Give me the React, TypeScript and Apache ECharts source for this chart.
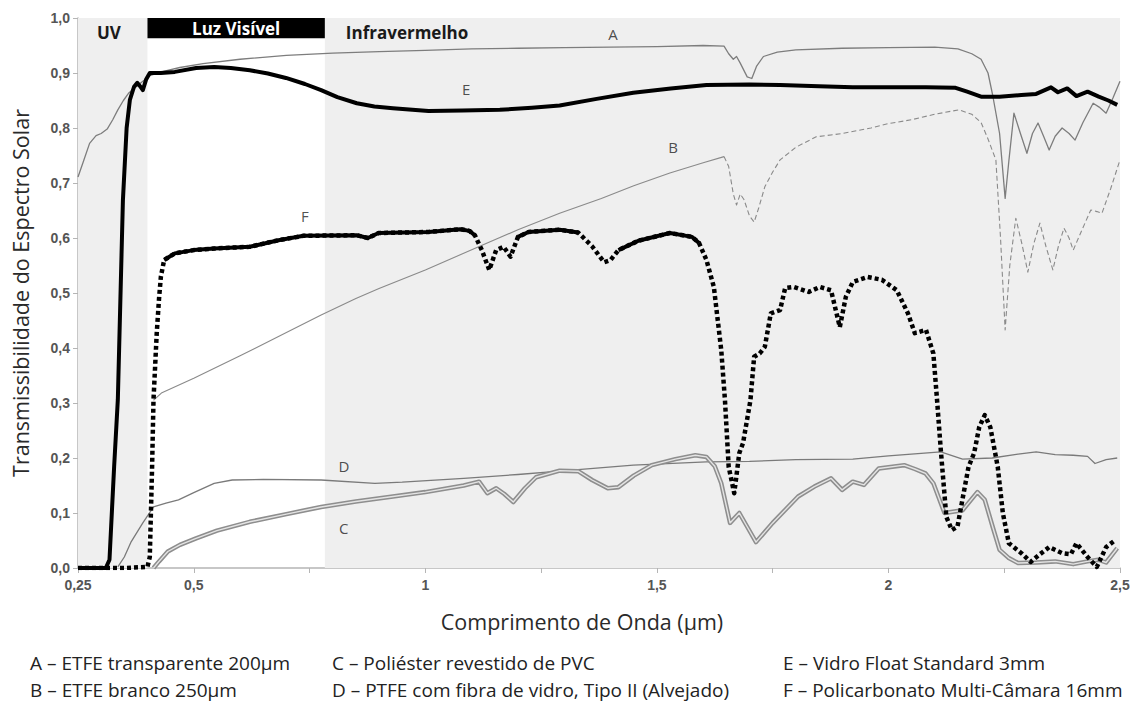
import React, { useEffect, useRef } from 'react';
import * as echarts from 'echarts';

// ---- data (wavelength in µm, transmissibility 0..1) ----
const seriesA: [number, number][] = [
  [0.25, 0.711], [0.262, 0.74], [0.275, 0.772], [0.289, 0.786], [0.3, 0.79], [0.313, 0.798],
  [0.325, 0.815], [0.336, 0.833], [0.348, 0.85], [0.359, 0.863], [0.378, 0.877], [0.39, 0.885],
  [0.405, 0.895], [0.43, 0.902], [0.47, 0.91], [0.52, 0.917], [0.6, 0.925], [0.7, 0.932],
  [0.8, 0.936], [0.9, 0.939], [1.0, 0.941], [1.1, 0.944], [1.2, 0.945], [1.3, 0.946],
  [1.4, 0.947], [1.5, 0.948], [1.6, 0.95], [1.645, 0.949], [1.655, 0.935], [1.665, 0.925],
  [1.672, 0.93], [1.68, 0.918], [1.695, 0.893], [1.705, 0.89], [1.715, 0.912], [1.73, 0.93],
  [1.76, 0.938], [1.8, 0.942], [1.9, 0.945], [2.0, 0.946], [2.1, 0.947], [2.15, 0.944],
  [2.18, 0.935], [2.2, 0.925], [2.215, 0.9], [2.225, 0.86], [2.24, 0.79], [2.252, 0.672],
  [2.26, 0.74], [2.271, 0.827], [2.285, 0.79], [2.299, 0.754], [2.311, 0.79], [2.323, 0.809],
  [2.335, 0.785], [2.347, 0.76], [2.36, 0.785], [2.375, 0.8], [2.39, 0.79], [2.403, 0.778],
  [2.42, 0.81], [2.442, 0.845], [2.455, 0.838], [2.47, 0.827], [2.485, 0.855], [2.5, 0.885],
];

const seriesB: [number, number][] = [
  [0.413, 0.305], [0.43, 0.318], [0.5, 0.345], [0.6, 0.386], [0.7, 0.428], [0.775, 0.46],
  [0.85, 0.49], [0.9, 0.508], [1.0, 0.542], [1.115, 0.584], [1.2, 0.615], [1.29, 0.645],
  [1.38, 0.672], [1.45, 0.695], [1.528, 0.718], [1.6, 0.737], [1.645, 0.748], [1.655, 0.73],
  [1.665, 0.68], [1.672, 0.66], [1.68, 0.68], [1.688, 0.67], [1.7, 0.64], [1.71, 0.629],
  [1.72, 0.655], [1.733, 0.693], [1.75, 0.72], [1.766, 0.742], [1.8, 0.765], [1.844, 0.784],
  [1.9, 0.79], [1.962, 0.8], [2.0, 0.808], [2.05, 0.815], [2.1, 0.825], [2.152, 0.833],
  [2.18, 0.825], [2.2, 0.81], [2.215, 0.78], [2.232, 0.742], [2.242, 0.6], [2.252, 0.433],
  [2.262, 0.55], [2.275, 0.636], [2.288, 0.59], [2.301, 0.538], [2.314, 0.59], [2.327, 0.627],
  [2.34, 0.585], [2.355, 0.542], [2.367, 0.585], [2.379, 0.618], [2.39, 0.6], [2.399, 0.578],
  [2.418, 0.615], [2.437, 0.651], [2.45, 0.648], [2.461, 0.645], [2.48, 0.69], [2.5, 0.742],
];
const bDashFrom = 1.645;

const seriesC: [number, number][] = [
  [0.413, 0], [0.425, 0.012], [0.444, 0.03], [0.47, 0.042], [0.505, 0.054], [0.55, 0.068],
  [0.621, 0.084], [0.7, 0.098], [0.775, 0.111], [0.85, 0.121], [0.93, 0.13], [1.0, 0.138],
  [1.083, 0.15], [1.116, 0.157], [1.134, 0.136], [1.153, 0.145], [1.17, 0.135], [1.19, 0.12],
  [1.215, 0.145], [1.239, 0.165], [1.29, 0.177], [1.33, 0.176], [1.36, 0.16], [1.394, 0.145],
  [1.417, 0.147], [1.45, 0.168], [1.489, 0.187], [1.54, 0.198], [1.583, 0.205], [1.607, 0.202],
  [1.625, 0.185], [1.639, 0.154], [1.658, 0.082], [1.678, 0.1], [1.695, 0.075], [1.714, 0.047],
  [1.75, 0.082], [1.805, 0.13], [1.84, 0.148], [1.876, 0.163], [1.9, 0.142], [1.923, 0.157],
  [1.947, 0.151], [1.979, 0.181], [2.034, 0.187], [2.057, 0.18], [2.08, 0.172], [2.097, 0.154],
  [2.121, 0.1], [2.16, 0.105], [2.192, 0.138], [2.208, 0.124], [2.225, 0.075], [2.24, 0.033],
  [2.26, 0.018], [2.28, 0.009], [2.32, 0.01], [2.36, 0.012], [2.399, 0.007], [2.43, 0.012],
  [2.453, 0.015], [2.47, 0.01], [2.494, 0.036],
];

const seriesD: [number, number][] = [
  [0.336, 0.002], [0.35, 0.02], [0.365, 0.048], [0.39, 0.082], [0.413, 0.111], [0.44, 0.118],
  [0.467, 0.124], [0.5, 0.137], [0.544, 0.154], [0.583, 0.16], [0.65, 0.161], [0.775, 0.16],
  [0.891, 0.154], [0.95, 0.156], [1.083, 0.163], [1.2, 0.17], [1.29, 0.176], [1.449, 0.187],
  [1.607, 0.193], [1.7, 0.194], [1.8, 0.197], [1.923, 0.198], [2.0, 0.204], [2.113, 0.211],
  [2.16, 0.198], [2.224, 0.2], [2.28, 0.207], [2.319, 0.211], [2.36, 0.206], [2.399, 0.205],
  [2.43, 0.203], [2.446, 0.19], [2.47, 0.197], [2.494, 0.2],
];

const seriesE: [number, number][] = [
  [0.25, 0], [0.31, 0], [0.318, 0.015], [0.328, 0.184], [0.336, 0.306], [0.347, 0.669],
  [0.355, 0.8], [0.362, 0.851], [0.371, 0.875], [0.378, 0.882], [0.384, 0.876], [0.39, 0.869],
  [0.397, 0.888], [0.405, 0.9], [0.429, 0.9], [0.459, 0.902], [0.505, 0.909], [0.544, 0.911],
  [0.58, 0.909], [0.621, 0.905], [0.66, 0.899], [0.699, 0.891], [0.74, 0.88], [0.775, 0.869],
  [0.81, 0.856], [0.852, 0.845], [0.89, 0.839], [0.93, 0.836], [1.007, 0.831], [1.08, 0.832],
  [1.161, 0.833], [1.23, 0.837], [1.29, 0.841], [1.37, 0.853], [1.449, 0.864], [1.53, 0.872],
  [1.607, 0.878], [1.7, 0.879], [1.766, 0.878], [1.85, 0.876], [1.923, 0.874], [2.0, 0.874],
  [2.081, 0.874], [2.145, 0.873], [2.17, 0.866], [2.2, 0.857], [2.24, 0.857], [2.287, 0.86],
  [2.319, 0.862], [2.351, 0.874], [2.366, 0.865], [2.386, 0.872], [2.406, 0.858], [2.43, 0.866],
  [2.454, 0.857], [2.475, 0.85], [2.494, 0.842],
];

const seriesF: [number, number][] = [
  [0.25, 0], [0.3, 0], [0.35, 0], [0.4, 0.002], [0.405, 0.02], [0.41, 0.184], [0.413, 0.305],
  [0.42, 0.427], [0.425, 0.49], [0.429, 0.53], [0.436, 0.56], [0.459, 0.572], [0.5, 0.578],
  [0.544, 0.581], [0.621, 0.584], [0.683, 0.596], [0.737, 0.604], [0.852, 0.605], [0.876, 0.6],
  [0.899, 0.609], [1.007, 0.611], [1.076, 0.616], [1.095, 0.613], [1.107, 0.605], [1.122, 0.578],
  [1.138, 0.542], [1.153, 0.578], [1.169, 0.584], [1.184, 0.566], [1.2, 0.602], [1.223, 0.611],
  [1.29, 0.615], [1.33, 0.61], [1.36, 0.585], [1.386, 0.556], [1.4, 0.56], [1.417, 0.578],
  [1.46, 0.595], [1.528, 0.609], [1.576, 0.602], [1.591, 0.591], [1.607, 0.56], [1.623, 0.511],
  [1.639, 0.396], [1.647, 0.305], [1.655, 0.184], [1.667, 0.136], [1.678, 0.209], [1.686, 0.227],
  [1.702, 0.305], [1.71, 0.384], [1.722, 0.39], [1.733, 0.402], [1.746, 0.463], [1.766, 0.469],
  [1.777, 0.509], [1.796, 0.511], [1.828, 0.502], [1.852, 0.511], [1.876, 0.505], [1.895, 0.438],
  [1.908, 0.493], [1.923, 0.52], [1.955, 0.529], [1.986, 0.524], [2.018, 0.505], [2.042, 0.463],
  [2.057, 0.427], [2.081, 0.433], [2.097, 0.39], [2.105, 0.305], [2.113, 0.215], [2.125, 0.093],
  [2.137, 0.069], [2.149, 0.075], [2.161, 0.13], [2.173, 0.184], [2.185, 0.209], [2.196, 0.256],
  [2.208, 0.278], [2.22, 0.256], [2.236, 0.184], [2.247, 0.1], [2.26, 0.045], [2.287, 0.027],
  [2.307, 0.011], [2.327, 0.025], [2.347, 0.038], [2.375, 0.027], [2.394, 0.025], [2.406, 0.045],
  [2.43, 0.02], [2.45, 0.002], [2.47, 0.038], [2.49, 0.051],
];
const fSolidRanges: [number, number][] = [[0.436, 1.107], [1.2, 1.33], [1.417, 1.591]];

const curveLabels = [
  { name: 'A', value: [1.405, 0.971] },
  { name: 'E', value: [1.088, 0.871] },
  { name: 'B', value: [1.535, 0.765] },
  { name: 'F', value: [0.74, 0.64] },
  { name: 'D', value: [0.824, 0.185] },
  { name: 'C', value: [0.824, 0.073] },
];

const xTickValues = [0.25, 0.5, 1, 1.5, 2, 2.5];
const xTickLabels = ['0,25', '0,5', '1', '1,5', '2', '2,5'];

const uvRange: [number, number] = [0.25, 0.4];
const visibleRange: [number, number] = [0.4, 0.783];
const irRange: [number, number] = [0.783, 2.5];

const legendColumns: string[][] = [
  ['A – ETFE transparente 200µm', 'B – ETFE branco 250µm'],
  ['C – Poliéster revestido de PVC', 'D – PTFE com fibra de vidro, Tipo II (Alvejado)'],
  ['E – Vidro Float Standard 3mm', 'F – Policarbonato Multi-Câmara 16mm'],
];

const FONT = '"Open Sans", "Noto Sans", sans-serif';

function buildOption(): any {
  const fSolid = seriesF.map(([x, y]) =>
    [x, fSolidRanges.some(([a, b]) => x >= a - 1e-9 && x <= b + 1e-9) ? y : null]);
  const bSolid = seriesB.filter(([x]) => x <= bDashFrom);
  const bDash = seriesB.filter(([x]) => x >= bDashFrom);
  const line = (name: string, data: any[], color: string, width: number, type: any = 'solid', z = 2) => ({
    name, type: 'line', data, symbol: 'none', showSymbol: false, silent: true, z,
    lineStyle: { color, width, type, cap: 'butt', join: 'round' },
    connectNulls: false,
  });
  const labelFont = { fontFamily: FONT, fontWeight: 'bold', fontSize: 17, color: '#1a1a1a' };
  const tickFont = { fontFamily: '"Liberation Sans", Arial, sans-serif', fontSize: 14, color: '#555', fontWeight: 'bold' };

  return {
    animation: false,
    backgroundColor: '#ffffff',
    grid: { left: 78, right: 14, top: 18, bottom: 134, containLabel: false },
    xAxis: {
      type: 'value', min: 0.25, max: 2.5, interval: 0.25,
      name: 'Comprimento de Onda (µm)', nameLocation: 'middle', nameGap: 42,
      nameTextStyle: { fontFamily: FONT, fontSize: 21.5, color: '#2a2a2a', padding: [0, 34, 0, 0] },
      axisLine: { show: true, lineStyle: { color: '#b5b5b5', width: 1.5 } },
      axisTick: { show: true, length: 5, lineStyle: { color: '#b5b5b5' } },
      splitLine: { show: false },
      axisLabel: {
        ...tickFont, margin: 10,
        formatter: (v: number) => {
          const i = xTickValues.findIndex((t) => Math.abs(t - v) < 1e-6);
          return i >= 0 ? xTickLabels[i] : '';
        },
      },
    },
    yAxis: {
      type: 'value', min: 0, max: 1, interval: 0.1,
      name: 'Transmissibilidade do Espectro Solar', nameLocation: 'middle', nameGap: 47,
      nameTextStyle: { fontFamily: FONT, fontSize: 21.5, color: '#2a2a2a' },
      axisLine: { show: true, lineStyle: { color: '#b5b5b5', width: 1.5 } },
      axisTick: { show: true, length: 5, lineStyle: { color: '#b5b5b5' } },
      splitLine: { show: false },
      axisLabel: {
        ...tickFont, margin: 8,
        formatter: (v: number) => v.toFixed(1).replace('.', ','),
      },
    },
    series: [
      {
        name: 'regions', type: 'line', data: [], silent: true, z: 1,
        markArea: {
          silent: true,
          data: [
            [
              { xAxis: uvRange[0], yAxis: 0, itemStyle: { color: '#efefef' },
                label: { show: true, position: 'insideTopLeft', formatter: 'UV', offset: [14, 1], ...labelFont } },
              { xAxis: uvRange[1], yAxis: 1 },
            ],
            [
              { xAxis: irRange[0], yAxis: 0, itemStyle: { color: '#efefef' },
                label: { show: true, position: 'insideTopLeft', formatter: 'Infravermelho', offset: [16, 1], ...labelFont } },
              { xAxis: irRange[1], yAxis: 1 },
            ],
            [
              { xAxis: visibleRange[0], yAxis: 0.963, itemStyle: { color: '#000000' },
                label: { show: true, position: 'inside', formatter: 'Luz Visível', ...labelFont, color: '#ffffff' } },
              { xAxis: visibleRange[1], yAxis: 1 },
            ],
          ],
        },
      },
      line('D', seriesD, '#7a7a7a', 1.3),
      line('C', seriesC, '#8e8e8e', 4.5),
      line('C-inner', seriesC, '#e4e4e4', 1.4, 'solid', 3),
      line('B', bSolid, '#8a8a8a', 1.1),
      line('B-dash', bDash, '#8a8a8a', 1.1, [5, 3]),
      line('A', seriesA, '#7d7d7d', 1.3),
      line('E', seriesE, '#000000', 4, 'solid', 4),
      line('F', seriesF, '#000000', 4.5, [4, 3], 4),
      line('F-solid', fSolid, '#000000', 4, 'solid', 4),
      {
        name: 'labels', type: 'scatter', data: curveLabels, symbolSize: 1, silent: true, z: 5,
        itemStyle: { color: 'rgba(0,0,0,0)' },
        label: { show: true, position: 'inside', formatter: (p: any) => p.name, fontFamily: FONT, fontSize: 15, color: '#222' },
      },
    ],
    graphic: legendColumns.flatMap((col, ci) =>
      col.map((t, ri) => ({
        type: 'text',
        left: [30, 332, 783][ci],
        top: 653 + ri * 27,
        silent: true,
        style: { text: t, fontFamily: FONT, fontSize: 19, fill: '#222' },
      }))),
  };
}

export default function App() {
  const ref = useRef<HTMLDivElement>(null);
  useEffect(() => {
    if (!ref.current) return;
    const chart = echarts.init(ref.current, null, { renderer: 'svg' });
    chart.setOption(buildOption());
    return () => chart.dispose();
  }, []);
  return (
    <div
      ref={ref}
      style={{ position: 'fixed', left: 0, top: 0, width: 1134, height: 702, background: '#fff' }}
    />
  );
}
